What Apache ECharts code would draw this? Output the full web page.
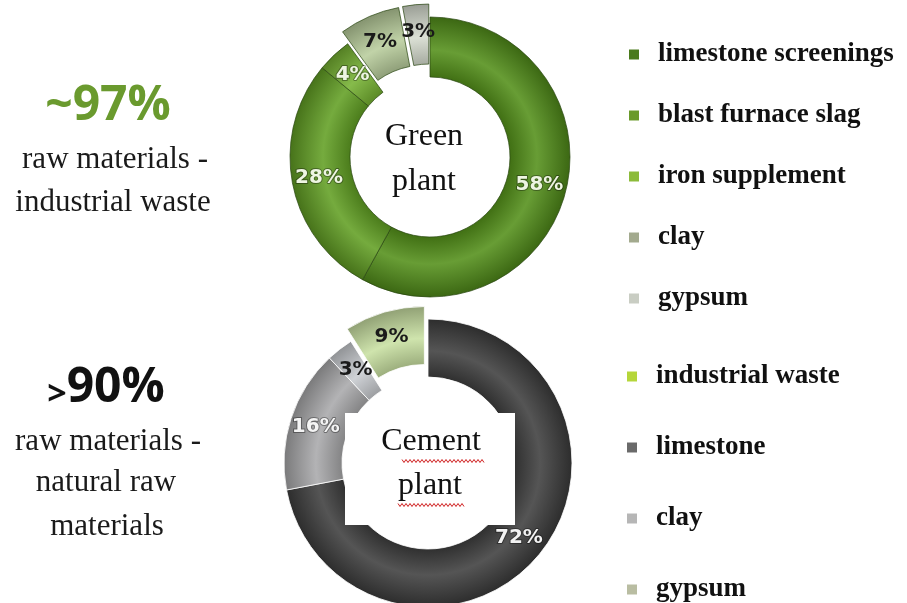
<!DOCTYPE html>
<html>
<head>
<meta charset="utf-8">
<script src="https://cdn.jsdelivr.net/npm/echarts@6/dist/echarts.min.js"></script>
<style>
  html, body { margin: 0; padding: 0; background: #fff; }
  #chart { width: 907px; height: 603px; }
</style>
</head>
<body>
<div id="chart"></div>
<script>
// green plant raw materials (clockwise from 12 o'clock)
const greenNames = ["limestone screenings", "blast furnace slag", "iron supplement", "clay", "gypsum"];
const greenValues = [58, 28, 4, 7, 3];
const greenPulled = [false, false, false, true, true];

// cement plant raw materials (clockwise from 12 o'clock)
const cementNames = ["limestone", "clay", "gypsum", "industrial waste"];
const cementValues = [72, 16, 3, 9];
const cementPulled = [false, false, false, true];
const cementLegendOrder = ["industrial waste", "limestone", "clay", "gypsum"];

// colours
const greenColors = ["#53901a", "#62a024", "#76b232", "#b9cd9c", "#d6dccf"];
const greenLabelColors = ["#eef5e2", "#eef5e2", "#eef5e2", "#1a1a1a", "#1a1a1a"];
const greenLegendColors = ["#4a7a1c", "#6a9a2a", "#8cbb3a", "#a3aa8e", "#c9cdc3"];
const cementColors = ["#3e3e3e", "#a9a9ab", "#c9ccd0", "#c9e0a2"];
const cementLabelColors = ["#f2f2f2", "#f4f4f4", "#1a1a1a", "#1a1a1a"];
const cementLegendColors = { "industrial waste": "#b5d63a", "limestone": "#6a6a6a", "clay": "#b6b6b6", "gypsum": "#b9bda2" };

const chart = echarts.init(document.getElementById("chart"));

function shade(hex, f) {
  const n = parseInt(hex.slice(1), 16);
  let c = [(n >> 16) & 255, (n >> 8) & 255, n & 255];
  c = c.map(v => Math.round(f < 0 ? v * (1 + f) : v + (255 - v) * f));
  return "rgb(" + c.join(",") + ")";
}

function ringFill(cx, cy, r0, r1, base) {
  const k = r0 / r1;
  return {
    type: "radial", x: cx, y: cy, r: r1, global: true,
    colorStops: [
      { offset: 0, color: base },
      { offset: k, color: shade(base, -0.22) },
      { offset: k + (1 - k) * 0.45, color: shade(base, 0.12) },
      { offset: 1, color: shade(base, -0.28) }
    ]
  };
}

function donut(name, center, radius, names, values, colors, labelColors, pulled, border) {
  return {
    name: name,
    type: "pie",
    center: center,
    radius: radius,
    startAngle: 90,
    clockwise: true,
    selectedMode: "multiple",
    selectedOffset: 13,
    silent: true,
    z: 1,
    itemStyle: { borderColor: border, borderWidth: 1 },
    label: {
      position: "inside",
      formatter: "{c}%",
      fontFamily: "DejaVu Sans",
      fontWeight: "bold",
      fontSize: 20
    },
    labelLine: { show: false },
    data: names.map((n, i) => ({
      name: n,
      value: values[i],
      selected: pulled[i],
      itemStyle: { color: ringFill(center[0], center[1], radius[0], radius[1], colors[i]) },
      label: {
        color: labelColors[i],
        textBorderColor: labelColors[i] === "#1a1a1a" ? "transparent" : "rgba(0,0,0,0.35)",
        textBorderWidth: labelColors[i] === "#1a1a1a" ? 0 : 2
      }
    }))
  };
}

function wavy(x0, x1, y) {
  const pts = [];
  for (let x = x0, i = 0; x <= x1; x += 2, i++) pts.push([x, y + (i % 2 ? 1.5 : -1.5)]);
  return { type: "polyline", z: 100, shape: { points: pts }, style: { stroke: "#d02020", lineWidth: 1, fill: null } };
}

const serif = "Liberation Serif";
const legendText = { fontFamily: serif, fontWeight: "bold", fontSize: 27, color: "#111", padding: [0, 0, 0, 14] };

const option = {
  backgroundColor: "#ffffff",
  animation: false,
  legend: [
    {
      orient: "vertical", left: 629, top: 41, height: 300, padding: 0,
      icon: "rect", itemWidth: 10, itemHeight: 10, itemGap: 34,
      selectedMode: false,
      textStyle: legendText,
      data: greenNames.map((n, i) => ({ name: n, itemStyle: { color: greenLegendColors[i], borderWidth: 0 } }))
    },
    {
      orient: "vertical", left: 627, top: 363, height: 260, padding: 0,
      icon: "rect", itemWidth: 10, itemHeight: 10, itemGap: 44,
      selectedMode: false,
      textStyle: legendText,
      data: cementLegendOrder.map(n => ({ name: n, itemStyle: { color: cementLegendColors[n], borderWidth: 0 } }))
    }
  ],
  series: [
    donut("Green plant", [430, 157], [80, 140], greenNames, greenValues, greenColors, greenLabelColors, greenPulled, "rgba(40,70,15,0.7)"),
    donut("Cement plant", [428, 463], [86, 144], cementNames, cementValues, cementColors, cementLabelColors, cementPulled, "rgba(255,255,255,0.8)")
  ],
  graphic: [
    { type: "text", z: 100, style: { text: "~97%", x: 108, y: 106, align: "center", verticalAlign: "middle", font: "bold 48px 'Open Sans'", fill: "#6a9a2e" } },
    { type: "text", z: 100, style: { text: "raw materials -", x: 115, y: 160, align: "center", verticalAlign: "middle", font: "31px '" + serif + "'", fill: "#1a1a1a" } },
    { type: "text", z: 100, style: { text: "industrial waste", x: 113, y: 203, align: "center", verticalAlign: "middle", font: "31px '" + serif + "'", fill: "#1a1a1a" } },
    {
      type: "text", z: 100,
      style: {
        text: "{a|>}{b|90%}", x: 106, y: 388, align: "center", verticalAlign: "middle",
        rich: {
          a: { fontFamily: "Open Sans", fontWeight: "bold", fontSize: 34, fill: "#111", verticalAlign: "bottom" },
          b: { fontFamily: "Open Sans", fontWeight: "bold", fontSize: 48, fill: "#111" }
        }
      }
    },
    { type: "text", z: 100, style: { text: "raw materials -", x: 108, y: 442, align: "center", verticalAlign: "middle", font: "31px '" + serif + "'", fill: "#1a1a1a" } },
    { type: "text", z: 100, style: { text: "natural raw", x: 106, y: 483, align: "center", verticalAlign: "middle", font: "31px '" + serif + "'", fill: "#1a1a1a" } },
    { type: "text", z: 100, style: { text: "materials", x: 107, y: 527, align: "center", verticalAlign: "middle", font: "31px '" + serif + "'", fill: "#1a1a1a" } },

    // centre of the green donut
    { type: "text", z: 100, style: { text: "Green", x: 424, y: 137, align: "center", verticalAlign: "middle", font: "32px '" + serif + "'", fill: "#111" } },
    { type: "text", z: 100, style: { text: "plant", x: 424, y: 182, align: "center", verticalAlign: "middle", font: "32px '" + serif + "'", fill: "#111" } },

    // text box in the cement donut
    { type: "rect", z: 99, shape: { x: 345, y: 413, width: 170, height: 112 }, style: { fill: "#ffffff" } },
    { type: "text", z: 100, style: { text: "Cement", x: 431, y: 442, align: "center", verticalAlign: "middle", font: "32px '" + serif + "'", fill: "#111" } },
    { type: "text", z: 100, style: { text: "plant", x: 430, y: 486, align: "center", verticalAlign: "middle", font: "32px '" + serif + "'", fill: "#111" } },
    wavy(402, 484, 461),
    wavy(398, 464, 505)
  ]
};

chart.setOption(option);
</script>
</body>
</html>
